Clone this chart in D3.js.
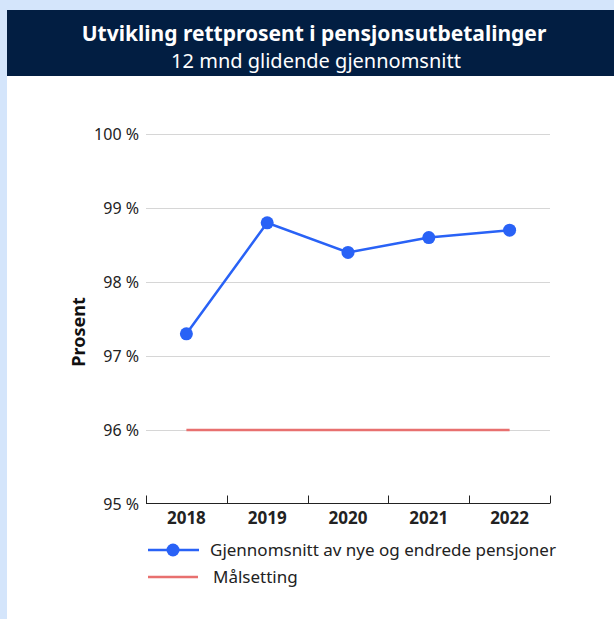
<!DOCTYPE html>
<html>
<head>
<meta charset="utf-8">
<script src="https://cdn.jsdelivr.net/npm/d3@7"></script>
<style>
  body { margin: 0; background: #d4e5fb; }
  svg { display: block; }
</style>
</head>
<body>
<svg id="chart"></svg>
<script>
var years = ["2018", "2019", "2020", "2021", "2022"];
var avgValues = [97.3, 98.8, 98.4, 98.6, 98.7];
var targetValues = [96, 96, 96, 96, 96];
var yTicks = [95, 96, 97, 98, 99, 100];
var seriesNames = ["Gjennomsnitt av nye og endrede pensjoner", "Målsetting"];

var width = 614, height = 619;
var font = "'Noto Sans', sans-serif";
var blue = "#2962f6", red = "#e8706f";

var svg = d3.select("#chart").attr("width", width).attr("height", height);

// white card + header
svg.append("rect").attr("x", 7).attr("y", 10).attr("width", width - 7).attr("height", height - 10).attr("fill", "#fff");
svg.append("rect").attr("x", 7).attr("y", 10).attr("width", width - 7).attr("height", 66).attr("fill", "#021e42");

svg.append("text").attr("x", 314).attr("y", 41).attr("text-anchor", "middle")
    .style("font", "bold 21px " + font).style("fill", "#fff")
    .text("Utvikling rettprosent i pensjonsutbetalinger");
svg.append("text").attr("x", 316).attr("y", 68).attr("text-anchor", "middle")
    .style("font", "20px " + font).style("fill", "#fff")
    .text("12 mnd glidende gjennomsnitt");

var x = d3.scaleBand().domain(years).range([146, 550]);
var y = d3.scaleLinear().domain([95, 100]).range([504, 134]);

// gridlines
svg.append("g").selectAll("line").data(yTicks.filter(function (d) { return d > 95; }))
    .enter().append("line")
    .attr("x1", 146).attr("x2", 550)
    .attr("y1", function (d) { return y(d) + 0.5; })
    .attr("y2", function (d) { return y(d) + 0.5; })
    .style("stroke", "#d6d6d6").style("stroke-width", 1);

// y labels
svg.append("g").selectAll("text").data(yTicks).enter().append("text")
    .attr("x", 139).attr("y", function (d) { return y(d) + 5.5; })
    .attr("text-anchor", "end")
    .style("font", "16px " + font).style("fill", "#222")
    .text(function (d) { return d + " %"; });

// x axis
var xAxis = svg.append("g").attr("transform", "translate(0,503.5)");
xAxis.append("line").attr("x1", 146).attr("x2", 550).style("stroke", "#222").style("stroke-width", 1);
var bounds = years.map(function (d) { return x(d); }).concat([x.range()[1]]);
xAxis.selectAll("line.tick").data(bounds).enter().append("line")
    .attr("class", "tick")
    .attr("x1", function (d) { return Math.round(d) + 0.5; })
    .attr("x2", function (d) { return Math.round(d) + 0.5; })
    .attr("y1", 0).attr("y2", -8)
    .style("stroke", "#222").style("stroke-width", 1);
xAxis.selectAll("text").data(years).enter().append("text")
    .attr("x", function (d) { return x(d) + x.bandwidth() / 2; })
    .attr("y", 20.5)
    .attr("text-anchor", "middle")
    .style("font", "bold 17px " + font).style("fill", "#222")
    .text(function (d) { return d; });

svg.append("text")
    .attr("transform", "translate(85,332) rotate(-90)")
    .attr("text-anchor", "middle")
    .style("font", "bold 18px " + font).style("fill", "#111")
    .text("Prosent");

var cx = function (d, i) { return x(years[i]) + x.bandwidth() / 2; };

// target line
svg.append("path")
    .datum(targetValues)
    .attr("d", d3.line().x(cx).y(function (d) { return y(d); }))
    .style("fill", "none").style("stroke", red).style("stroke-width", 2.5);

// average line
svg.append("path")
    .datum(avgValues)
    .attr("d", d3.line().x(cx).y(function (d) { return y(d); }))
    .style("fill", "none").style("stroke", blue).style("stroke-width", 2.5);

svg.append("g").selectAll("circle").data(avgValues).enter().append("circle")
    .attr("cx", cx).attr("cy", function (d) { return y(d); })
    .attr("r", 6.5).attr("fill", blue);

// legend
var legend = svg.append("g");
legend.append("line").attr("x1", 148).attr("x2", 199).attr("y1", 550).attr("y2", 550)
    .style("stroke", blue).style("stroke-width", 2.5);
legend.append("circle").attr("cx", 173).attr("cy", 550).attr("r", 6.5).attr("fill", blue);
legend.append("line").attr("x1", 148).attr("x2", 198).attr("y1", 577).attr("y2", 577)
    .style("stroke", red).style("stroke-width", 2.5);
legend.selectAll("text").data(seriesNames).enter().append("text")
    .attr("x", function (d, i) { return i === 0 ? 210 : 213; })
    .attr("y", function (d, i) { return 556 + i * 27; })
    .style("font", "17px " + font).style("fill", "#222")
    .text(function (d) { return d; });
</script>
</body>
</html>
